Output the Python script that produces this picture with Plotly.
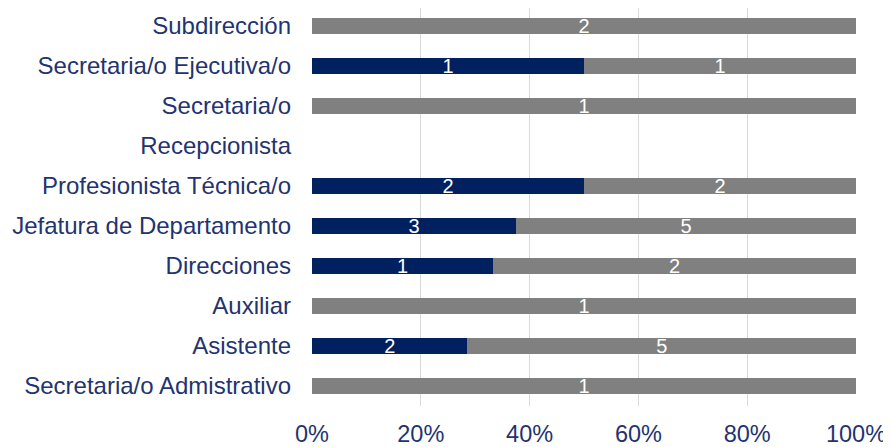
import plotly.graph_objects as go

puestos = [
    "Subdirección",
    "Secretaria/o Ejecutiva/o",
    "Secretaria/o",
    "Recepcionista",
    "Profesionista Técnica/o",
    "Jefatura de Departamento",
    "Direcciones",
    "Auxiliar",
    "Asistente",
    "Secretaria/o Admistrativo",
]
mujeres = [0, 1, 0, None, 2, 3, 1, 0, 2, 0]
hombres = [2, 1, 1, None, 2, 5, 2, 1, 5, 1]
ticks_x = [0, 20, 40, 60, 80, 100]
ticks_txt = ["0%", "20%", "40%", "60%", "80%", "100%"]

AZUL = "#002060"
GRIS = "#808080"
TEXTO = "#1F3470"
FUENTE = "Liberation Sans, Arial, sans-serif"


def etiquetas(valores):
    return ["" if v is None else str(v) for v in valores]


fig = go.Figure()

for nombre, valores, color in [("Mujeres", mujeres, AZUL), ("Hombres", hombres, GRIS)]:
    fig.add_trace(
        go.Bar(
            y=puestos,
            x=valores,
            orientation="h",
            name=nombre,
            marker=dict(color=color, line=dict(width=0)),
            text=etiquetas(valores),
            textposition="inside",
            insidetextanchor="middle",
            textangle=0,
            constraintext="none",
            cliponaxis=False,
            textfont=dict(color="white", size=20, family=FUENTE),
            hoverinfo="skip",
        )
    )

# the page adds an 8px body margin, so the figure is made smaller to fit
fig.update_layout(
    width=883,
    height=439,
    barmode="stack",
    barnorm="percent",
    bargap=0.6,
    showlegend=False,
    plot_bgcolor="white",
    paper_bgcolor="white",
    margin=dict(l=304, r=35, t=0, b=41),
    font=dict(family=FUENTE, size=24, color=TEXTO),
    uniformtext=dict(minsize=20, mode="show"),
)

fig.update_xaxes(
    range=[0, 100],
    tickvals=ticks_x,
    ticktext=ticks_txt,
    showgrid=True,
    gridcolor="#D9D9D9",
    gridwidth=1,
    zeroline=False,
    showline=False,
    ticks="",
    automargin=False,
    ticklabelstandoff=11,
    tickfont=dict(size=23.5, color=TEXTO),
)

fig.update_yaxes(
    categoryorder="array",
    categoryarray=puestos,
    range=[9.5, -0.45],
    showgrid=False,
    showline=False,
    ticks="",
    automargin=False,
    ticklabelstandoff=20,
    tickfont=dict(size=24, color=TEXTO),
)

fig.write_html("out.html")
